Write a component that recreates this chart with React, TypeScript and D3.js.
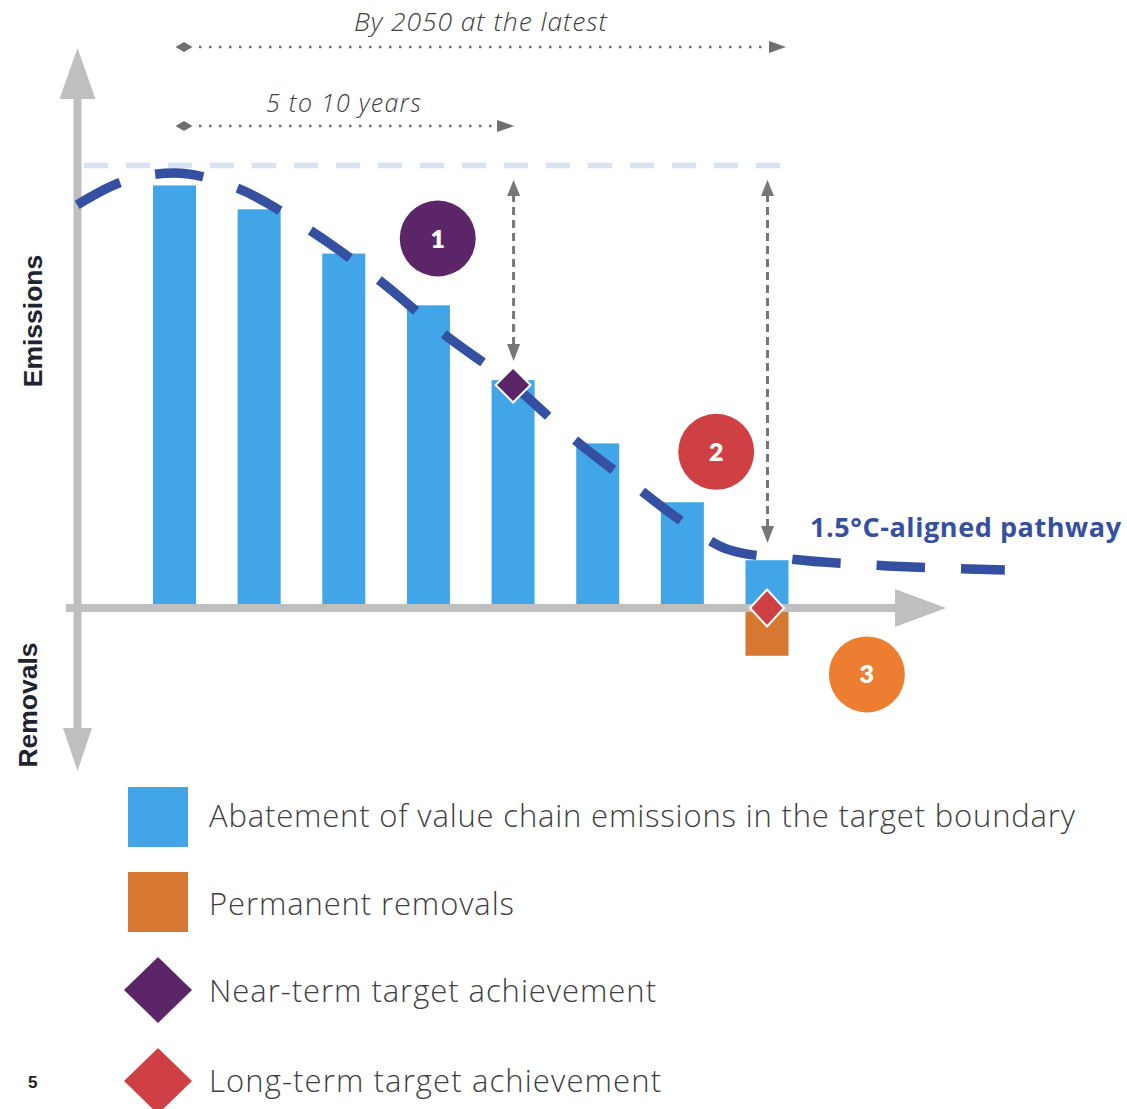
import React from "react";
import * as d3 from "d3";

// Abatement bars (emissions index, start level = 100)
const periods = [0, 1, 2, 3, 4, 5, 6, 7];
const abatement = [95.5, 90.1, 80.1, 68.4, 51.5, 37.2, 23.9, 10.8];
const removals = [0, 0, 0, 0, 0, 0, 0, -10.8];

// 1.5°C-aligned pathway, sampled along the period axis
const pathwayT = [-1.15, -0.62, 0.0, 0.74, 1.6, 2.43, 3.17, 4.0, 4.73, 5.5, 5.97, 6.56, 7.27, 8.25, 9.81];
const pathwayV = [91.1, 96.3, 98.3, 94.9, 85.4, 73.9, 62.1, 50.4, 38.0, 26.7, 19.9, 13.1, 11.1, 9.7, 8.6];

const baseLevel = 100;
const nearTerm = { t: 4, v: 50.4 };
const longTerm = { t: 7, v: 0 };

const steps = [
  { label: "1", t: 3.11, v: 83.5, color: "#5c2568" },
  { label: "2", t: 6.4, v: 35.3, color: "#cf4045" },
  { label: "3", t: 8.18, v: -15, color: "#ed7d31" },
];

const legendItems = [
  { label: "Abatement of value chain emissions in the target boundary", shape: "square", color: "#42a5e8", len: 866 },
  { label: "Permanent removals", shape: "square", color: "#d67832", len: 305 },
  { label: "Near-term target achievement", shape: "diamond", color: "#5c2568", len: 447 },
  { label: "Long-term target achievement", shape: "diamond", color: "#cf4045", len: 452 },
];

const W = 1127;
const H = 1109;

const BLUE = "#42a5e8";
const ORANGE = "#d67832";
const AXIS = "#bfbfbf";
const PATH = "#3550a0";
const GREY = "#6f6f6f";
const TEXT = "#404040";
const FONT = "'Open Sans', Lato, sans-serif";

const x = d3.scaleLinear().domain([0, 7]).range([174.5, 767]);
const y = d3.scaleLinear().domain([0, 100]).range([608, 165.5]);

const diamond = (cx: number, cy: number, hw: number, hh: number) =>
  `M${cx},${cy - hh}L${cx + hw},${cy}L${cx},${cy + hh}L${cx - hw},${cy}Z`;

export default function App() {
  const barW = 43;
  const pathLine = d3
    .line<number>()
    .x((_, i) => x(pathwayT[i]))
    .y((d) => y(d))
    .curve(d3.curveMonotoneX)(pathwayV) as string;

  const axisX = 77.5;
  const axisY = y(0);
  const startX = x(0) + 9.5;

  return (
    <svg
      width={W}
      height={H}
      viewBox={`0 0 ${W} ${H}`}
      style={{ position: "absolute", left: 0, top: 0, background: "#fff" }}
      fontFamily={FONT}
    >
      <rect width={W} height={H} fill="#fff" />

      {/* starting-level reference line */}
      <line
        x1={84}
        x2={781}
        y1={y(baseLevel)}
        y2={y(baseLevel)}
        stroke="#d7e1f2"
        strokeWidth={5.5}
        strokeDasharray="24 18"
      />

      {/* abatement bars */}
      {periods.map((p, i) => (
        <rect
          key={"a" + p}
          x={x(p) - barW / 2}
          y={y(abatement[i])}
          width={barW}
          height={y(0) - y(abatement[i])}
          fill={BLUE}
        />
      ))}
      {/* removals */}
      {periods.map((p, i) =>
        removals[i] < 0 ? (
          <rect
            key={"r" + p}
            x={x(p) - barW / 2}
            y={y(0)}
            width={barW}
            height={y(removals[i]) - y(0)}
            fill={ORANGE}
          />
        ) : null
      )}

      {/* axes */}
      <line x1={axisX} x2={axisX} y1={99} y2={731} stroke={AXIS} strokeWidth={8} />
      <path d={`M${axisX},48L${axisX + 18},99L${axisX - 18},99Z`} fill={AXIS} />
      <path d={`M${axisX},771L${axisX + 14.5},728L${axisX - 14.5},728Z`} fill={AXIS} />
      <line x1={66} x2={896} y1={axisY} y2={axisY} stroke={AXIS} strokeWidth={8} />
      <path d={`M946,${axisY}L895,${axisY - 19}L895,${axisY + 19}Z`} fill={AXIS} />

      {/* pathway */}
      <path d={pathLine} fill="none" stroke={PATH} strokeWidth={9.5} strokeDasharray="48.5 36" />

      {/* vertical dashed gap arrows */}
      {[
        { t: nearTerm.t, bottom: y(nearTerm.v) - 24 },
        { t: longTerm.t, bottom: 543 },
      ].map((a, i) => {
        const cx = x(a.t) + 0.5;
        const top = y(baseLevel) + 14.5;
        return (
          <g key={"va" + i}>
            <line
              x1={cx}
              x2={cx}
              y1={top + 14}
              y2={a.bottom - 14}
              stroke="#777"
              strokeWidth={3}
              strokeDasharray="8 5"
            />
            <path d={`M${cx},${top}L${cx + 6.5},${top + 16}L${cx - 6.5},${top + 16}Z`} fill="#777" />
            <path
              d={`M${cx},${a.bottom}L${cx + 6.5},${a.bottom - 17}L${cx - 6.5},${a.bottom - 17}Z`}
              fill="#777"
            />
          </g>
        );
      })}

      {/* timeframe dotted arrows */}
      {[
        { yy: 47, end: x(7) + 19 },
        { yy: 126, end: x(4) + 1 },
      ].map((a, i) => (
        <g key={"ha" + i}>
          <path d={diamond(startX, a.yy, 8.5, 5)} fill={GREY} />
          <line
            x1={startX + 15}
            x2={a.end - 16}
            y1={a.yy}
            y2={a.yy}
            stroke={GREY}
            strokeWidth={2.5}
            strokeDasharray="2.5 7.5"
          />
          <path d={`M${a.end},${a.yy}L${a.end - 17},${a.yy - 6}L${a.end - 17},${a.yy + 6}Z`} fill={GREY} />
        </g>
      ))}
      <text
        x={354}
        y={31}
        fontSize={26.5}
        fontStyle="italic"
        fontWeight={300}
        fill={TEXT}
        textLength={253}
        lengthAdjust="spacing"
      >
        By 2050 at the latest
      </text>
      <text
        x={266}
        y={112}
        fontSize={25}
        fontStyle="italic"
        fontWeight={300}
        fill={TEXT}
        textLength={155}
        lengthAdjust="spacing"
      >
        5 to 10 years
      </text>

      {/* target markers */}
      <path
        d={diamond(x(nearTerm.t), y(nearTerm.v), 17.5, 17.5)}
        fill="#5c2568"
        stroke="#fff"
        strokeWidth={2}
      />
      <path
        d={diamond(x(longTerm.t), y(longTerm.v), 17, 18.5)}
        fill="#cf4045"
        stroke="#fff"
        strokeWidth={2}
      />

      {/* step badges */}
      {steps.map((s) => (
        <g key={s.label}>
          <circle cx={x(s.t)} cy={y(s.v)} r={38} fill={s.color} />
          <text
            x={x(s.t)}
            y={y(s.v) + 9}
            textAnchor="middle"
            fontFamily="Lato, sans-serif"
            fontSize={25}
            fontWeight={800}
            fill="#fff"
          >
            {s.label}
          </text>
        </g>
      ))}

      <text
        x={810}
        y={537}
        fontSize={27}
        fontWeight={700}
        fill={PATH}
        textLength={311}
        lengthAdjust="spacing"
      >
        1.5°C-aligned pathway
      </text>

      {/* axis titles */}
      <text
        transform="translate(42,321) rotate(-90)"
        textAnchor="middle"
        fontFamily="'Liberation Sans', Arial, sans-serif"
        fontWeight={700}
        fontSize={26.5}
        fill="#1f2430"
      >
        Emissions
      </text>
      <text
        transform="translate(37,705) rotate(-90)"
        textAnchor="middle"
        fontFamily="'Liberation Sans', Arial, sans-serif"
        fontWeight={700}
        fontSize={26.5}
        fill="#1f2430"
      >
        Removals
      </text>

      {/* legend */}
      {legendItems.map((item, i) => {
        const cy = [817, 902, 990, 1081][i];
        const base = [827, 915, 1002, 1092][i];
        return (
          <g key={item.label}>
            {item.shape === "square" ? (
              <rect x={128} y={cy - 30} width={60} height={60} fill={item.color} />
            ) : (
              <path d={diamond(158, cy, 34, 33)} fill={item.color} />
            )}
            <text
              x={209}
              y={base}
              fontSize={31}
              fontWeight={300}
              fill={TEXT}
              textLength={item.len}
              lengthAdjust="spacing"
            >
              {item.label}
            </text>
          </g>
        );
      })}

      <text x={28} y={1088} fontFamily="'Liberation Sans', Arial, sans-serif" fontSize={17} fontWeight={700} fill="#222">
        5
      </text>
    </svg>
  );
}
